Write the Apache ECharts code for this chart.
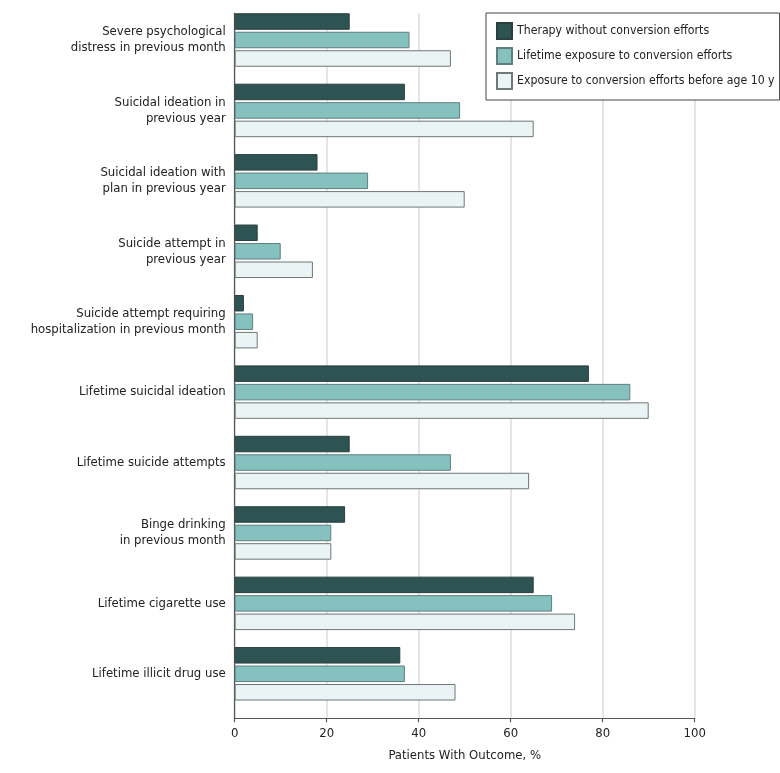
<!DOCTYPE html>
<html>
<head>
<meta charset="utf-8">
<script src="https://cdn.jsdelivr.net/npm/echarts@6/dist/echarts.min.js"></script>
<style>html,body{margin:0;padding:0;background:#fff}#c{width:780px;height:773px}</style>
</head>
<body>
<div id="c"></div>
<script>
const categories = [
  "Severe psychological\ndistress in previous month",
  "Suicidal ideation in\nprevious year",
  "Suicidal ideation with\nplan in previous year",
  "Suicide attempt in\nprevious year",
  "Suicide attempt requiring\nhospitalization in previous month",
  "Lifetime suicidal ideation",
  "Lifetime suicide attempts",
  "Binge drinking\nin previous month",
  "Lifetime cigarette use",
  "Lifetime illicit drug use"
];
const seriesNames = [
  "Therapy without conversion efforts",
  "Lifetime exposure to conversion efforts",
  "Exposure to conversion efforts before age 10 y"
];
const therapyWithout = [25, 37, 18, 5, 2, 77, 25, 24, 65, 36];
const lifetimeExposure = [38, 49, 29, 10, 4, 86, 47, 21, 69, 37];
const before10 = [47, 65, 50, 17, 5, 90, 64, 21, 74, 48];
const xTicks = [0, 20, 40, 60, 80, 100];

const FONT = "DejaVu Sans Condensed, Roboto, sans-serif";
const colors = ["#2d5352", "#84c1bf", "#eaf4f4"];
const borders = ["#2a3f3e", "#5f7f7e", "#6f7777"];
const values = [therapyWithout, lifetimeExposure, before10];

const chart = echarts.init(document.getElementById('c'));
chart.setOption({
  animation: false,
  backgroundColor: '#fff',
  grid: [
    {left: 234.7, right: 85.3, top: 4.8, bottom: 64, containLabel: false},
    {left: 234.7, right: 85.3, top: 13.3, bottom: 54.7, containLabel: false}
  ],
  legend: {
    orient: 'vertical',
    left: 486, top: 13,
    padding: [9, 5, 10, 10],
    itemGap: 7,
    itemWidth: 15, itemHeight: 16,
    icon: 'rect',
    borderColor: '#444', borderWidth: 1,
    backgroundColor: '#fff',
    textStyle: {fontFamily: FONT, fontSize: 12.2, color: '#222'},
    data: seriesNames,
    z: 10
  },
  xAxis: [
    {gridIndex: 0, type: 'value', min: 0, max: 100, interval: 20, show: false},
    {gridIndex: 1, type: 'value', min: xTicks[0], max: xTicks[xTicks.length-1], interval: 20,
     axisLine: {show: true, lineStyle: {color: '#555', width: 1.2}},
     axisTick: {show: true, length: 4, lineStyle: {color: '#555', width: 1.2}},
     axisLabel: {fontFamily: FONT, fontSize: 13, color: '#222', margin: 9},
     splitLine: {show: true, lineStyle: {color: '#dcdcdc', width: 1.5}},
     name: 'Patients With Outcome, %', nameLocation: 'middle', nameGap: 31,
     nameTextStyle: {fontFamily: FONT, fontSize: 13, color: '#222'}}
  ],
  yAxis: [
    {gridIndex: 0, type: 'category', inverse: true, data: categories,
     axisLine: {show: false}, axisTick: {show: false},
     axisLabel: {fontFamily: FONT, fontSize: 13, color: '#222', margin: 9, lineHeight: 16, align: 'right'}},
    {gridIndex: 1, type: 'category', data: [''],
     axisLine: {show: true, lineStyle: {color: '#555', width: 1.2}},
     axisTick: {show: false}, axisLabel: {show: false}}
  ],
  series: seriesNames.map((n, i) => ({
    name: n, type: 'bar', xAxisIndex: 0, yAxisIndex: 0,
    data: values[i], barWidth: 16.5, barGap: '12%',
    itemStyle: {color: colors[i], borderColor: borders[i], borderWidth: 1}
  }))
});
</script>
</body>
</html>
